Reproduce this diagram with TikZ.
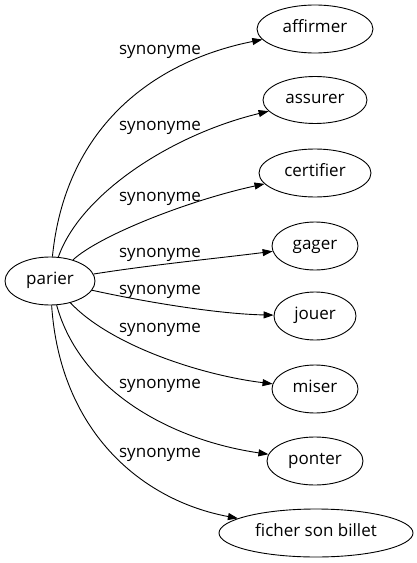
\documentclass[tikz,border=0pt]{standalone}
\usepackage{fontspec}
\setmainfont{Open Sans}
\usetikzlibrary{shapes.geometric,arrows.meta}
\begin{document}
\begin{tikzpicture}[x=1bp,y=-1bp,
  every node/.style={font=\fontsize{17bp}{20bp}\selectfont},
  term/.style={ellipse,draw,line width=0.9bp,inner sep=0pt,minimum height=48bp,text height=0.95em,text depth=0.25em},
  rel/.style={anchor=base,inner sep=0pt},
  edge/.style={draw,line width=0.9bp,-{Triangle[length=10bp,width=7bp]}}]
\useasboundingbox (0,0) rectangle (416,563);
\node[term,minimum width=90bp] (p) at (50,281) {parier};
\node[term,minimum width=116bp] (a1) at (315,29) {affirmer};
\node[term,minimum width=104bp,minimum height=47bp] (a2) at (315,100) {assurer};
\node[term,minimum width=112bp] (a3) at (315,173) {certifier};
\node[term,minimum width=86bp] (a4) at (315,246) {gager};
\node[term,minimum width=82bp] (a5) at (315,316) {jouer};
\node[term,minimum width=86bp] (a6) at (315,389) {miser};
\node[term,minimum width=96bp] (a7) at (315,461) {ponter};
\node[term,minimum width=194bp] (a8) at (316,533) {ficher son billet};
\path[edge] (p) .. controls (65,130) and (150,62) .. (a1);
\path[edge] (p) .. controls (80,195) and (170,135) .. (a2);
\path[edge] (p) .. controls (100,235) and (190,200) .. (a3);
\path[edge] (p) .. controls (150,265) and (220,258) .. (a4);
\path[edge] (p) .. controls (150,303) and (220,314) .. (a5);
\path[edge] (p) .. controls (110,345) and (200,375) .. (a6);
\path[edge] (p) .. controls (80,390) and (170,440) .. (a7);
\path[edge] (p) .. controls (60,430) and (140,500) .. (a8);
\node[rel] (l1) at (160,55) {synonyme};
\node[rel] (l2) at (160,131) {synonyme};
\node[rel] (l3) at (160,201) {synonyme};
\node[rel] (l4) at (160,257) {synonyme};
\node[rel] (l5) at (160,294) {synonyme};
\node[rel] (l6) at (160,332) {synonyme};
\node[rel] (l7) at (160,388) {synonyme};
\node[rel] (l8) at (160,457) {synonyme};
\end{tikzpicture}
\end{document}
